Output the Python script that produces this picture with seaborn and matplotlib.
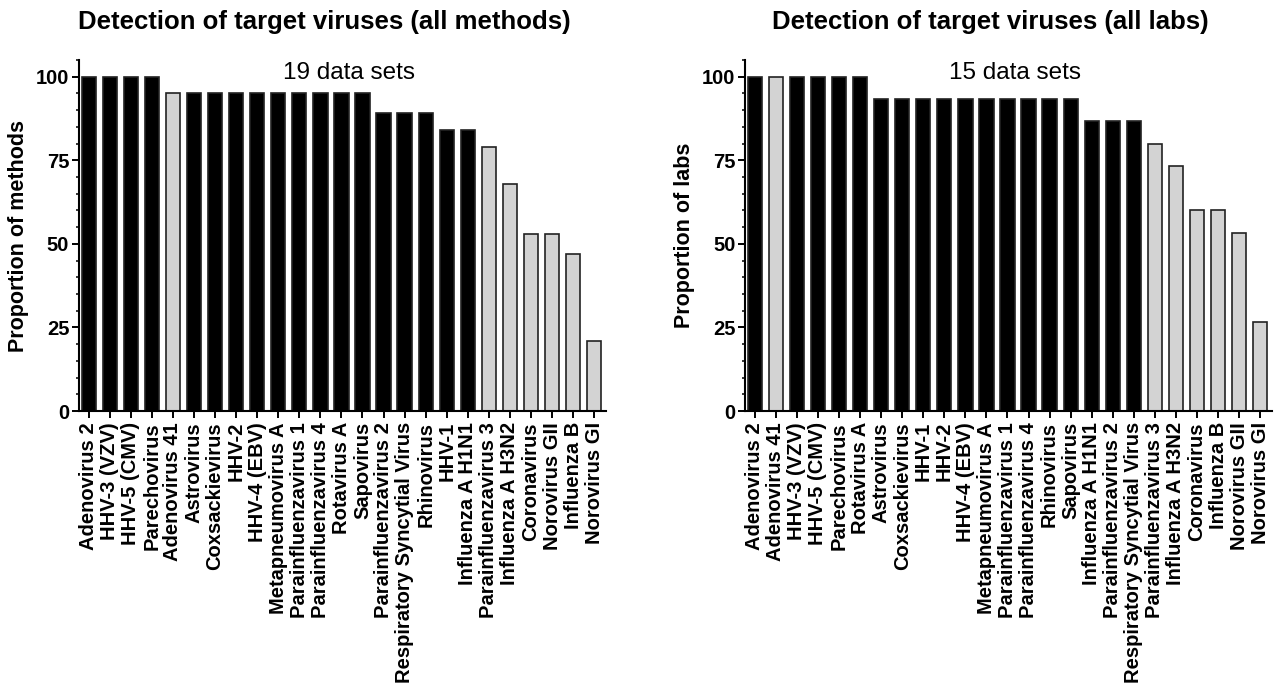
import matplotlib
matplotlib.use("Agg")
import matplotlib.pyplot as plt
import seaborn as sns
import pandas as pd
from matplotlib.ticker import MultipleLocator

# 左图：所有方法
methods_viruses = ["Adenovirus 2", "HHV-3 (VZV)", "HHV-5 (CMV)", "Parechovirus", "Adenovirus 41",
                   "Astrovirus", "Coxsackievirus", "HHV-2", "HHV-4 (EBV)", "Metapneumovirus A",
                   "Parainfluenzavirus 1", "Parainfluenzavirus 4", "Rotavirus A", "Sapovirus",
                   "Parainfluenzavirus 2", "Respiratory Syncytial Virus", "Rhinovirus", "HHV-1",
                   "Influenza A H1N1", "Parainfluenzavirus 3", "Influenza A H3N2", "Coronavirus",
                   "Norovirus GII", "Influenza B", "Norovirus GI"]
methods_values = [100, 100, 100, 100, 95, 95, 95, 95, 95, 95, 95, 95, 95, 95,
                  89, 89, 89, 84, 84, 79, 68, 53, 53, 47, 21]
methods_gray = ["Adenovirus 41", "Parainfluenzavirus 3", "Influenza A H3N2", "Coronavirus",
                "Norovirus GII", "Influenza B", "Norovirus GI"]

# 右图：所有实验室
labs_viruses = ["Adenovirus 2", "Adenovirus 41", "HHV-3 (VZV)", "HHV-5 (CMV)", "Parechovirus",
                "Rotavirus A", "Astrovirus", "Coxsackievirus", "HHV-1", "HHV-2", "HHV-4 (EBV)",
                "Metapneumovirus A", "Parainfluenzavirus 1", "Parainfluenzavirus 4", "Rhinovirus",
                "Sapovirus", "Influenza A H1N1", "Parainfluenzavirus 2", "Respiratory Syncytial Virus",
                "Parainfluenzavirus 3", "Influenza A H3N2", "Coronavirus", "Influenza B",
                "Norovirus GII", "Norovirus GI"]
labs_values = [100, 100, 100, 100, 100, 100, 93.3, 93.3, 93.3, 93.3, 93.3, 93.3, 93.3, 93.3,
               93.3, 93.3, 86.7, 86.7, 86.7, 80, 73.3, 60, 60, 53.3, 26.7]
labs_gray = ["Adenovirus 41", "Parainfluenzavirus 3", "Influenza A H3N2", "Coronavirus",
             "Influenza B", "Norovirus GII", "Norovirus GI"]

sns.set_style("ticks", {'axes.edgecolor': 'black', 'text.color': 'black',
                        'xtick.color': 'black', 'ytick.color': 'black',
                        'axes.labelcolor': 'black'})
plt.rcParams['font.family'] = ['Liberation Sans', 'DejaVu Sans']
plt.rcParams['axes.linewidth'] = 1.5


def draw_panel(ax, viruses, values, gray, title, ylabel, note):
    df = pd.DataFrame({'virus': viruses, 'value': values})
    df['kind'] = ['gray' if v in gray else 'black' for v in viruses]
    sns.barplot(data=df, x='virus', y='value', hue='kind', order=viruses,
                palette={'black': 'black', 'gray': '#d3d3d3'}, dodge=False,
                width=0.68, legend=False, ax=ax, linewidth=1.2, edgecolor='#222222')
    ax.set_xlim(-0.46, len(viruses) - 0.44)
    ax.set_ylim(0, 105)
    ax.yaxis.set_major_locator(MultipleLocator(25))
    ax.yaxis.set_minor_locator(MultipleLocator(5))
    ax.tick_params(axis='y', which='major', length=5, width=1.4, labelsize=14.5, pad=2)
    ax.tick_params(axis='y', which='minor', length=2.5, width=1.1)
    ax.tick_params(axis='x', length=5, width=1.4, labelsize=14.5, labelrotation=90, pad=3)
    for lab in ax.get_xticklabels() + ax.get_yticklabels():
        lab.set_fontweight('bold')
    ax.set_xlabel('')
    ax.set_ylabel(ylabel, fontsize=15.5, fontweight='bold', labelpad=5)
    ax.set_title(title, fontsize=18.5, fontweight='bold', x=0.465, pad=22)
    ax.text(0.512, 0.963, note, transform=ax.transAxes, ha='center', va='center', fontsize=17.5)
    sns.despine(ax=ax)


fig = plt.figure(figsize=(12.76, 6.88), dpi=100)
ax1 = fig.add_axes([0.0619, 0.4026, 0.4130, 0.5102])
ax2 = fig.add_axes([0.5839, 0.4026, 0.4130, 0.5102])

draw_panel(ax1, methods_viruses, methods_values, methods_gray,
           'Detection of target viruses (all methods)', 'Proportion of methods', '19 data sets')
draw_panel(ax2, labs_viruses, labs_values, labs_gray,
           'Detection of target viruses (all labs)', 'Proportion of labs', '15 data sets')

fig.savefig('out.png', dpi=100)
